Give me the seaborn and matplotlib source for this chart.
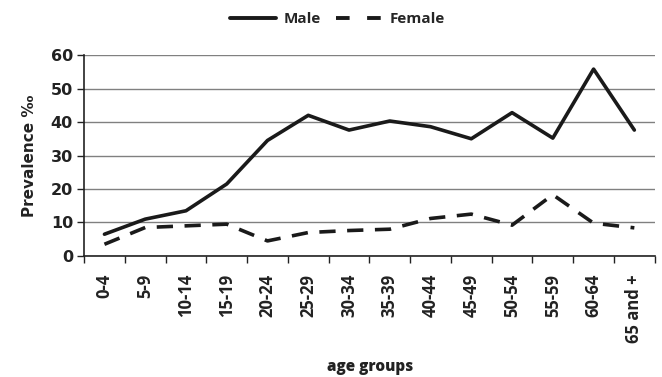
# plot.py
# Prevalence by age group, male vs female -> out.png (662x377)

import numpy as np
import pandas as pd
import matplotlib.pyplot as plt
import seaborn as sns
from matplotlib.lines import Line2D

age_groups = ["0-4", "5-9", "10-14", "15-19", "20-24", "25-29", "30-34",
              "35-39", "40-44", "45-49", "50-54", "55-59", "60-64", "65 and +"]
male = [6.5, 11, 13.5, 21.5, 34.5, 42, 37.6, 40.3, 38.6, 35, 42.8, 35.2, 55.8, 37.6]
female = [3.5, 8.5, 9, 9.5, 4.5, 7, 7.6, 8, 11.2, 12.5, 9.2, 18.3, 9.8, 8.4]

df = pd.DataFrame({
    "age": age_groups * 2,
    "pos": list(range(len(age_groups))) * 2,
    "prev": male + female,
    "sex": ["Male"] * len(age_groups) + ["Female"] * len(age_groups),
})

sns.set_style("white")
fig = plt.figure(figsize=(6.62, 3.77), dpi=100)
ax = fig.add_axes([0.127, 0.321, 0.862, 0.533])

sns.lineplot(data=df, x="pos", y="prev", style="sex",
             dashes={"Male": "", "Female": (4.5, 3.2)},
             color="#1a1a1a", linewidth=2.6, ax=ax, legend=False)

ax.set_xlim(-0.5, len(age_groups) - 0.5)
ax.set_ylim(0, 60)
ax.set_yticks(range(0, 61, 10))
ax.yaxis.grid(True, color="#808080", linewidth=1)
ax.set_axisbelow(True)

ax.set_xticks(range(len(age_groups)))
ax.set_xticklabels(age_groups, rotation=90, fontsize=12, fontweight="bold",
                   family="Open Sans", color="#222222")
ax.set_xticks(np.arange(-0.5, len(age_groups)), minor=True)
ax.tick_params(axis="x", which="major", length=0, pad=13)
ax.tick_params(axis="x", which="minor", length=5, width=1, color="#222222",
               direction="out", bottom=True)
ax.tick_params(axis="y", length=5, width=1, color="#222222", direction="out",
               left=True, pad=3)
for lbl in ax.get_yticklabels():
    lbl.set_fontweight("bold")
    lbl.set_fontsize(11.5)
    lbl.set_family("DejaVu Sans")
    lbl.set_color("#222222")

for side in ["top", "right"]:
    ax.spines[side].set_visible(False)
for side in ["left", "bottom"]:
    ax.spines[side].set_color("#222222")
    ax.spines[side].set_linewidth(1.2)

ax.set_xlabel("")
fig.text(0.559, 0.026, "age groups", ha="center", va="center", fontsize=11,
         fontweight="heavy", family="Open Sans", color="#222222")
ax.set_ylabel("Prevalence ‰", fontsize=11, fontweight="bold",
              family="DejaVu Sans", color="#222222", labelpad=10)

handles = [Line2D([], [], color="#1a1a1a", linewidth=2.8),
           Line2D([], [], color="#1a1a1a", linewidth=2.8, dashes=(3.5, 4.5))]
fig.legend(handles, ["Male", "Female"], loc="upper center",
           bbox_to_anchor=(0.51, 1.005), ncol=2, frameon=False,
           handlelength=3.0, handletextpad=0.5, columnspacing=1.0,
           prop={"family": "Open Sans", "weight": "bold", "size": 11})

fig.savefig("out.png", dpi=100)
plt.close(fig)
